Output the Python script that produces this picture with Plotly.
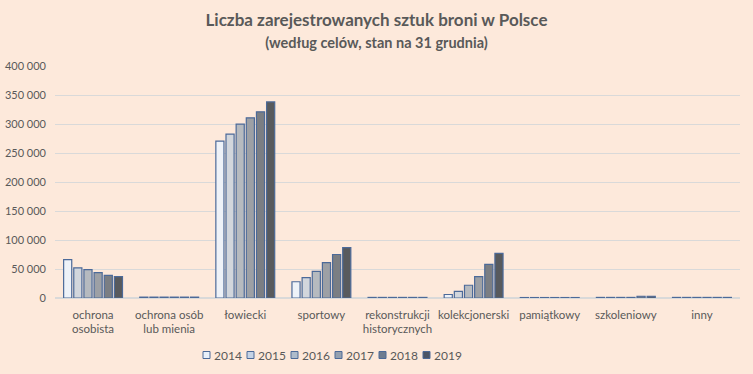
import plotly.graph_objects as go

categories = ["ochrona<br>osobista", "ochrona osób<br>lub mienia", "łowiecki", "sportowy",
              "rekonstrukcji<br>historycznych", "kolekcjonerski", "pamiątkowy", "szkoleniowy", "inny"]
years = ["2014", "2015", "2016", "2017", "2018", "2019"]

v2014 = [66000, 1500, 270600, 28000, 1000, 6000, 800, 1000, 1000]
v2015 = [52000, 1500, 282600, 35000, 1000, 11500, 800, 1000, 1000]
v2016 = [49000, 1500, 299800, 46000, 1000, 22000, 800, 1000, 1000]
v2017 = [43600, 1500, 310600, 61000, 1000, 37000, 800, 1000, 1000]
v2018 = [39000, 1500, 321000, 75000, 1000, 58000, 800, 3000, 1000]
v2019 = [37000, 1500, 338000, 87000, 1000, 77000, 800, 3000, 1000]
series = [v2014, v2015, v2016, v2017, v2018, v2019]

fills = ["#EEF2F8", "#D2D6DC", "#B6BABF", "#9DA0A5", "#7B7E83", "#585A5D"]
legend_fills = ["#E8F0FA", "#C5D3E6", "#AEBBCB", "#94A0B0", "#6E7C90", "#4C5566"]
outline = "#4C6A99"

W, H = 753, 374
ML, MR, MT, MB = 55, 13, 66, 76
PW, PH = W - ML - MR, H - MT - MB

fig = go.Figure()
for y, vals, c in zip(years, series, fills):
    fig.add_trace(go.Bar(x=categories, y=vals, name=y, showlegend=False,
                         marker=dict(color=c, line=dict(color=outline, width=1.2))))

# custom compact legend (pixel layout converted to paper coords)
def px_x(p):
    return (p - ML) / PW

def px_y(p):
    return (H - MB - p) / PH

shapes, annotations = [], []
leg_x0, leg_step, leg_y = 203, 44, 355
for i, (yr, c) in enumerate(zip(years, legend_fills)):
    sx = leg_x0 + i * leg_step
    shapes.append(dict(type="rect", xref="paper", yref="paper",
                       x0=px_x(sx), x1=px_x(sx + 7), y0=px_y(leg_y + 3.5), y1=px_y(leg_y - 3.5),
                       fillcolor=c, line=dict(color=outline, width=1)))
    annotations.append(dict(xref="paper", yref="paper", x=px_x(sx + 9), y=px_y(leg_y),
                            text=yr, showarrow=False, xanchor="left", yanchor="middle",
                            font=dict(size=12, color="#595959")))

bg = "#FDE9DB"
fig.update_layout(
    width=W, height=H,
    paper_bgcolor=bg, plot_bgcolor=bg,
    margin=dict(l=ML, r=MR, t=MT, b=MB),
    separators=", ",
    font=dict(family="Lato, Open Sans, sans-serif", color="#595959", size=12),
    title=dict(text="<b>Liczba zarejestrowanych sztuk broni w Polsce</b><br><span style='font-size:14.5px'><b>(według celów, stan na 31 grudnia)</b></span>",
               x=0.5, xanchor="center", y=0.93, yanchor="top", font=dict(size=17, color="#595959")),
    barmode="group", bargap=0.2, bargroupgap=0.2,
    yaxis=dict(range=[0, 400000], dtick=50000, tickformat=",d", gridcolor="#D9D9D9", gridwidth=1,
               zeroline=True, zerolinecolor="#D9D9D9", ticks="", tickfont=dict(size=11),
               ticklabelstandoff=8, automargin=False),
    xaxis=dict(showline=False, ticks="", tickfont=dict(size=11.5), ticklabelstandoff=8, automargin=False),
    shapes=shapes, annotations=annotations,
)
fig.write_html("out.html", config={"displayModeBar": False},
               post_script="document.body.style.margin='0';document.body.style.background='#FDE9DB';")
